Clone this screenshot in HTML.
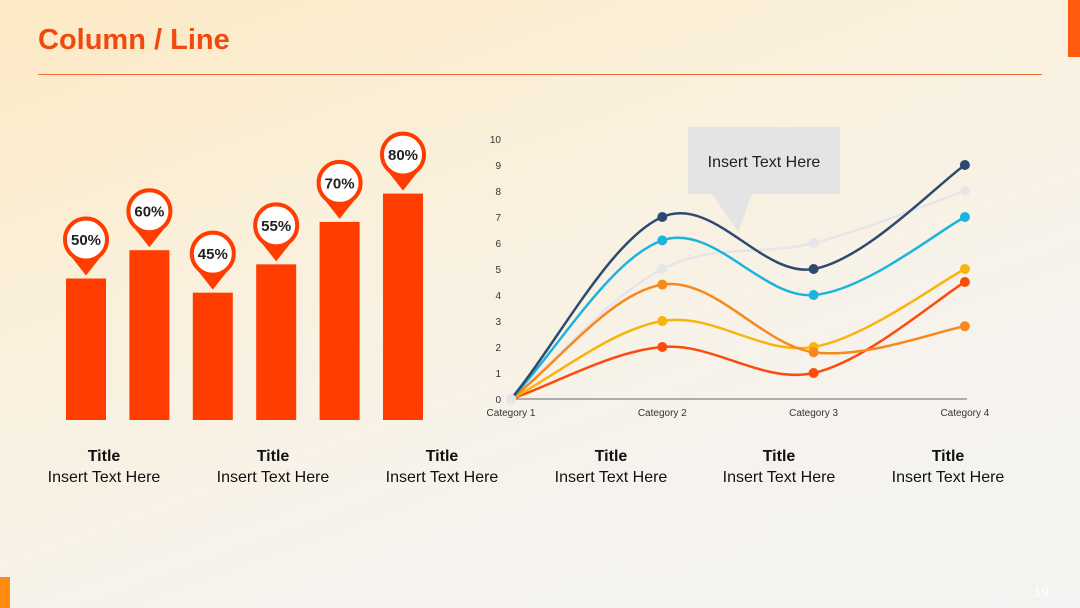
<!DOCTYPE html>
<html><head><meta charset="utf-8"><style>
body{margin:0;width:1080px;height:608px;overflow:hidden;font-family:"Liberation Sans",sans-serif;}
#bg{position:absolute;left:0;top:0;width:1080px;height:608px;background:linear-gradient(160deg,#fde9c4 0%,#faf0dc 35%,#f6f3ee 70%,#f4f3f1 100%);}
.t{position:absolute;width:160px;text-align:center;font-size:16px;color:#111;}
</style></head><body>
<div id="bg"></div>
<div style="position:absolute;left:38px;top:24px;font-size:29px;font-weight:bold;color:#f04a10;">Column / Line</div>
<div style="position:absolute;left:38px;top:74px;width:1004px;height:1px;background:#f06a3a;"></div>
<div style="position:absolute;left:1068px;top:0;width:12px;height:57px;background:#ff5a10;"></div>
<div style="position:absolute;left:0;top:577px;width:10px;height:31px;background:#ff8a10;"></div>
<div style="position:absolute;left:1034px;top:584px;font-size:13px;color:#fff;">19</div>
<svg id="c" width="1080" height="608" style="position:absolute;left:0;top:0"></svg>
<div id="labels"></div>
<script>
const barLabels=["50%","60%","45%","55%","70%","80%"];
const barValues=[50,60,45,55,70,80];
const categories=["Category 1","Category 2","Category 3","Category 4"];
const yTicks=[0,1,2,3,4,5,6,7,8,9,10];
const sNavy=[0,7,5,9];
const sGray=[0,5,6,8];
const sCyan=[0,6.1,4,7];
const sOrange=[0,4.4,1.8,2.8];
const sYellow=[0,3,2,5];
const sRed=[0,2,1,4.5];
const NS="http://www.w3.org/2000/svg";
const svg=document.getElementById('c');
function mk(t,a,p){const e=document.createElementNS(NS,t);for(const k in a)e.setAttribute(k,a[k]);(p||svg).appendChild(e);return e;}
// bars
const bx=i=>86+i*63.4, bh=v=>v*2.83, base=420;
barValues.forEach((v,i)=>{
 const x=bx(i),top=base-bh(v);
 const r=mk('rect',{x:x-20,y:top,width:40,height:bh(v),fill:'#ff3d00'});
 
 
 const cy=top-39;
 const p=mk('path',{d:`M${x-15} ${cy+17} L${x} ${top-3} L${x+15} ${cy+17} Z`,fill:'#ff3d00'});
 
 
 const c=mk('circle',{cx:x,cy:cy,r:21,fill:'#fff',stroke:'#ff3d00','stroke-width':4});
 
 
 const t=mk('text',{x:x,y:cy+5.5,'text-anchor':'middle','font-size':15,'font-weight':'bold',fill:'#222'});
 t.textContent=barLabels[i];
 
 
});
// line chart
const lx=i=>511+i*151.3, ly=v=>399-v*26;
yTicks.forEach(v=>{const t=mk('text',{x:501,y:ly(v)+4,'text-anchor':'end','font-size':10,fill:'#333'});t.textContent=v;
 
 });
const ax=mk('line',{x1:511,y1:399,x2:967,y2:399,stroke:'#666','stroke-width':1});


categories.forEach((c,i)=>{const t=mk('text',{x:lx(i),y:416,'text-anchor':'middle','font-size':10,fill:'#333'});t.textContent=c;
 
 });
// callout
const cb=mk('path',{d:'M688 127 H840 V194 H752 L738 232 L712 194 H688 Z',fill:'#e4e4e4'});


const ct=mk('text',{x:764,y:167,'text-anchor':'middle','font-size':16,fill:'#222'});ct.textContent='Insert Text Here';


function curve(vals){const P=vals.map((v,i)=>[lx(i),ly(v)]);let d=`M${P[0][0]} ${P[0][1]}`;
 for(let i=0;i<P.length-1;i++){const p0=P[i-1]||P[i],p1=P[i],p2=P[i+1],p3=P[i+2]||p2;const k=0.17;
 const c1=[p1[0]+(p2[0]-p0[0])*k,p1[1]+(p2[1]-p0[1])*k],c2=[p2[0]-(p3[0]-p1[0])*k,p2[1]-(p3[1]-p1[1])*k];
 if(i==0){c1[0]=p1[0]+(p2[0]-p1[0])*0.3;c1[1]=p1[1]+(p2[1]-p1[1])*0.3;}
 d+=` C${c1[0]} ${c1[1]} ${c2[0]} ${c2[1]} ${p2[0]} ${p2[1]}`;}return d;}
const series=[[sGray,'#e6e6ea','gray'],[sRed,'#fc4c0c','red'],[sYellow,'#f8b40c','yellow'],[sOrange,'#f8881c','orange'],[sCyan,'#1ab4dc','cyan'],[sNavy,'#2e4a70','navy']];
series.forEach(([vals,col,n])=>{
 const p=mk('path',{d:curve(vals),fill:'none',stroke:col,'stroke-width':2.5});
 
 
 vals.forEach((v,i)=>{const c=mk('circle',{cx:lx(i),cy:ly(v),r:5,fill:i==0?'#e6e6ea':col});
 
 });
});
// titles
const L=document.getElementById('labels');
[104,273,442,611,779,948].forEach(cx=>{
 const d=document.createElement('div');d.className='t';d.style.left=(cx-80)+'px';d.style.top='446px';
 d.innerHTML='<div style="font-weight:bold;line-height:21px">Title</div><div style="line-height:21px">Insert Text Here</div>';
 
 
 L.appendChild(d);});
</script>
</body></html>
